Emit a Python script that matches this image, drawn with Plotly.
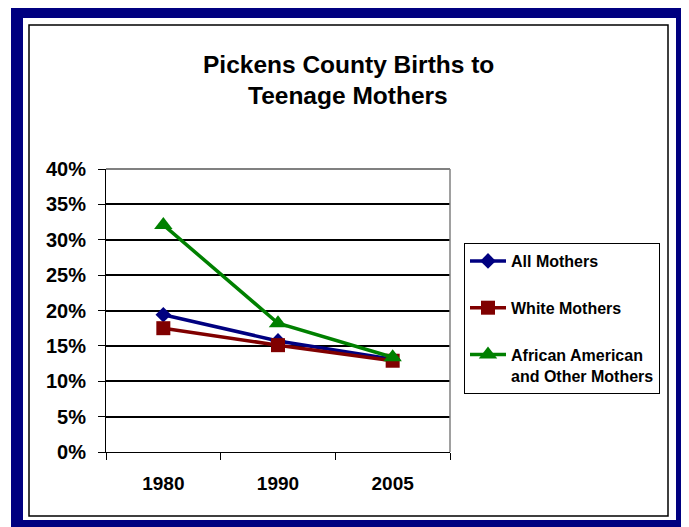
import plotly.graph_objects as go

years = ["1980", "1990", "2005"]
all_mothers = [19.4, 15.7, 13.1]
white_mothers = [17.5, 15.1, 12.9]
african_american_other = [32.1, 18.2, 13.4]
y_ticks = [0, 5, 10, 15, 20, 25, 30, 35, 40]

title_lines = ["Pickens County Births to", "Teenage Mothers"]

# the page body has an 8px margin, so the figure sits 8px in from the window corner
OFF = 8
W, H = 689 - OFF, 527 - OFF
L, R, T, B = 106 - OFF, 450 - OFF, 169 - OFF, 452 - OFF
FONT = "Arial, Liberation Sans, sans-serif"


def px_x(x):
    # window pixel -> paper fraction
    return (x - OFF - L) / (R - L)


def px_y(y):
    return (B - (y - OFF)) / (B - T)


def frame(x0, y0, x1, y1, **kw):
    return dict(type="rect", xref="paper", yref="paper",
                x0=px_x(x0), x1=px_x(x1), y0=px_y(y1), y1=px_y(y0), **kw)


series = [
    ("All Mothers", all_mothers, "#000080", "diamond", 12),
    ("White Mothers", white_mothers, "#800000", "square", 14),
    ("African American<br>and Other Mothers", african_american_other, "#008000", "triangle-up", 16),
]

fig = go.Figure()
for i, (name, vals, color, symbol, size) in enumerate(series):
    fig.add_trace(go.Scatter(
        x=years, y=vals, name=name, mode="lines+markers", legendgroup=str(i),
        line=dict(color=color, width=3.5),
        marker=dict(symbol=symbol, size=size, color=color),
    ))

shapes = [
    frame(11, 7, 700, 540, fillcolor="#000080", line_width=0, layer="below"),
    frame(23, 18, 676, 520, fillcolor="white", line_width=0, layer="below"),
    frame(29, 25, 668, 516, fillcolor="rgba(0,0,0,0)", line=dict(color="black", width=1.5), layer="below"),
    # gray top and right edges of the plot area
    dict(type="line", xref="paper", yref="paper", x0=0, x1=1, y0=1, y1=1,
         line=dict(color="#808080", width=2), layer="above"),
    dict(type="line", xref="paper", yref="paper", x0=1, x1=1, y0=0, y1=1,
         line=dict(color="#808080", width=1.5), layer="above"),
]

annotations = [
    dict(text=f"<b>{t}</b>", xref="paper", yref="paper", x=px_x(348), y=px_y(yy),
         xanchor="center", yanchor="middle", showarrow=False,
         font=dict(family=FONT, size=24.5, color="black"))
    for t, yy in zip(title_lines, [64, 96])
]

fig.update_layout(
    width=W, height=H, autosize=False,
    margin=dict(l=L, r=W - R, t=T, b=H - B),
    paper_bgcolor="white", plot_bgcolor="rgba(0,0,0,0)",
    font=dict(family=FONT, color="black"),
    shapes=shapes, annotations=annotations,
    showlegend=True,
    legend=dict(
        x=px_x(464), y=px_y(243), xanchor="left", yanchor="top",
        bordercolor="black", borderwidth=1, bgcolor="white",
        font=dict(family=FONT, size=16, color="black", weight="bold"),
        traceorder="grouped", tracegroupgap=23, valign="top", itemwidth=36,
    ),
    xaxis=dict(
        type="category", showgrid=False, showline=True, linecolor="black", linewidth=1,
        ticks="outside", tickson="boundaries", ticklen=7, tickcolor="black",
        tickfont=dict(family=FONT, size=19, weight="bold"), ticklabelstandoff=14,
        range=[-0.5, 2.5],
    ),
    yaxis=dict(
        range=[0, 40], tickvals=y_ticks, ticktext=[f"{v}%" for v in y_ticks],
        showgrid=True, gridcolor="black", gridwidth=2, zeroline=False,
        showline=True, linecolor="black", linewidth=1,
        ticks="outside", ticklen=7, tickcolor="black", ticklabelstandoff=8,
        tickfont=dict(family=FONT, size=20, weight="bold"),
    ),
)

fig.write_html("out.html")
